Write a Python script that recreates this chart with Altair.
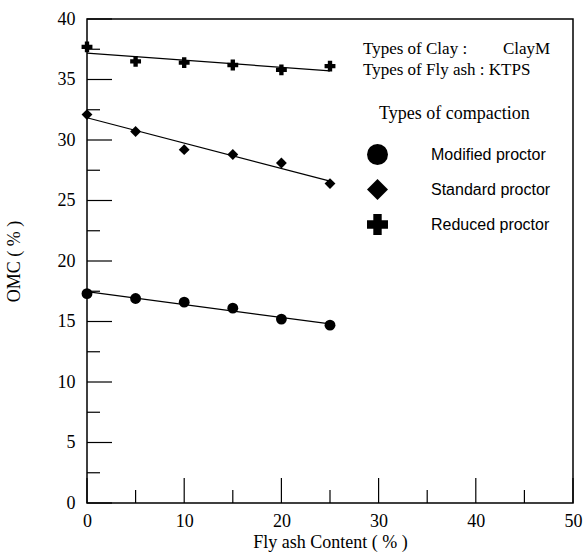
import altair as alt
import pandas as pd

# Fly ash content (%) and optimum moisture content (%) for each compaction type
fly_ash = [0, 5, 10, 15, 20, 25]
modified = [17.3, 16.9, 16.6, 16.1, 15.2, 14.7]
standard = [32.1, 30.7, 29.2, 28.8, 28.1, 26.4]
reduced = [37.7, 36.5, 36.4, 36.2, 35.8, 36.1]

series_names = ["Modified proctor", "Standard proctor", "Reduced proctor"]
series_shapes = ["circle", "diamond", "cross"]

# Tick positions (drawn inward as short/long rules)
y_major = [0, 5, 10, 15, 20, 25, 30, 35, 40]
y_minor = [2.5, 7.5, 12.5, 17.5, 22.5, 27.5, 32.5, 37.5]
x_major = [0, 10, 20, 30, 40, 50]
x_minor = [5, 15, 25, 35, 45]

rows = []
for name, vals in zip(series_names, [modified, standard, reduced]):
    for xv, yv in zip(fly_ash, vals):
        rows.append({"fly": xv, "omc": yv, "type": name})
df = pd.DataFrame(rows)

SERIF = "Liberation Serif"
SANS = "Liberation Sans"
W, H = 486, 484

x_scale = alt.Scale(domain=[0, 50], nice=False)
y_scale = alt.Scale(domain=[0, 40], nice=False)

x_enc = alt.X(
    "fly:Q", scale=x_scale,
    axis=alt.Axis(
        title="Fly ash Content ( % )", values=x_major, format="d",
        ticks=False, domain=False, grid=False,
        labelFont=SERIF, labelFontSize=18, labelColor="black", labelPadding=9,
        labelFlush=False,
        titleFont=SERIF, titleFontSize=18, titleFontWeight="normal", titleColor="black",
        titleX=W / 2, titleY=44, titleAlign="center", titleBaseline="alphabetic",
    ),
)
y_enc = alt.Y(
    "omc:Q", scale=y_scale,
    axis=alt.Axis(
        title="OMC ( % )", values=y_major, format="d",
        ticks=False, domain=False, grid=False,
        labelFont=SERIF, labelFontSize=18, labelColor="black", labelPadding=12,
        labelFlush=False,
        titleFont=SERIF, titleFontSize=18, titleFontWeight="normal", titleColor="black",
        titleX=-68, titleY=H / 2, titleAlign="center", titleBaseline="alphabetic",
    ),
)

shape_enc = alt.Shape(
    "type:N",
    scale=alt.Scale(domain=series_names, range=series_shapes),
    sort=series_names,
    legend=alt.Legend(
        title=None, orient="none", legendX=280, legendY=125,
        symbolSize=440, symbolFillColor="black", symbolStrokeColor="black",
        symbolStrokeWidth=0, labelFont=SANS, labelFontSize=16, labelColor="black",
        labelOffset=43, rowPadding=14,
    ),
)

points = alt.Chart(df).mark_point(filled=True, color="black", size=118, opacity=1).encode(
    x=x_enc, y=y_enc, shape=shape_enc
)

fits = (
    alt.Chart(df)
    .transform_regression("fly", "omc", groupby=["type"], extent=[0, 25])
    .mark_line(color="black", strokeWidth=1.2)
    .encode(x=alt.X("fly:Q", scale=x_scale), y=alt.Y("omc:Q", scale=y_scale), detail="type:N")
)

# inward ticks on the left axis
def y_ticks(values, length):
    return alt.Chart(pd.DataFrame({"v": values})).mark_rule(color="black", strokeWidth=1.2).encode(
        y=alt.Y("v:Q", scale=y_scale), x=alt.value(0), x2=alt.value(length)
    )

# inward ticks on the bottom axis
def x_ticks(values, length):
    return alt.Chart(pd.DataFrame({"v": values})).mark_rule(color="black", strokeWidth=1.2).encode(
        x=alt.X("v:Q", scale=x_scale), y=alt.value(H), y2=alt.value(H - length)
    )

notes = pd.DataFrame({
    "label": ["Types of Clay :", "ClayM", "Types of Fly ash : KTPS"],
    "px": [276, 416, 276],
    "py": [30, 30, 51],
})
note_text = alt.Chart(notes).mark_text(
    font=SERIF, fontSize=17, color="black", align="left", baseline="middle"
).encode(x=alt.X("px:Q", scale=None), y=alt.Y("py:Q", scale=None), text="label:N")

legend_heading = alt.Chart(pd.DataFrame({"label": ["Types of compaction"]})).mark_text(
    font=SERIF, fontSize=18, color="black", align="left", baseline="middle"
).encode(x=alt.value(292), y=alt.value(95), text="label:N")

chart = (
    alt.layer(
        y_ticks(y_major, 25), y_ticks(y_minor, 13),
        x_ticks(x_major, 25), x_ticks(x_minor, 13),
        fits, points, note_text, legend_heading,
    )
    .properties(
        width=W, height=H,
        autosize=alt.AutoSizeParams(type="none"),
        padding={"left": 87, "top": 19, "right": 12, "bottom": 55},
        background="white",
    )
    .configure_view(stroke="black", strokeWidth=1.5)
)

chart.save("out.html", embed_options={"renderer": "svg", "actions": False})
